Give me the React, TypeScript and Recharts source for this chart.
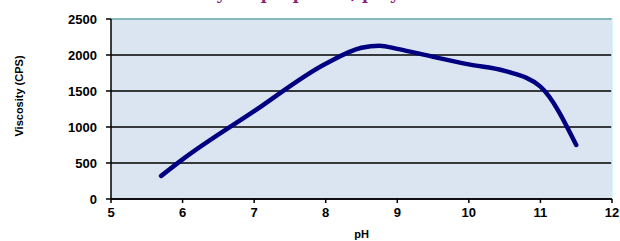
import React from 'react';
import {
  LineChart,
  Line,
  XAxis,
  YAxis,
  CartesianGrid,
  ReferenceLine,
  Label,
} from 'recharts';

// pH readings and measured viscosity (CPS)
const phValues = [5.7, 6, 7, 8, 8.5, 8.75, 9, 9.5, 10, 10.5, 11, 11.5];
const viscosityValues = [320, 550, 1220, 1880, 2100, 2130, 2085, 1975, 1870, 1780, 1560, 750];
const xTicks = [5, 6, 7, 8, 9, 10, 11, 12];
const yTicks = [0, 500, 1000, 1500, 2000, 2500];

const data = phValues.map((ph, i) => ({ ph, viscosity: viscosityValues[i] }));

const tickStyle = { fontFamily: 'Arial, "Liberation Sans", sans-serif', fontWeight: 700, fontSize: 13, fill: '#000' };

const App: React.FC = () => {
  return (
    <div style={{ position: 'absolute', left: 0, top: 0, width: 620, height: 241, background: '#fff', overflow: 'hidden' }}>
      <div
        style={{
          position: 'absolute',
          left: 0,
          width: 620,
          top: -16,
          textAlign: 'center',
          fontFamily: '"DejaVu Serif", "Liberation Serif", serif',
          fontWeight: 700,
          fontSize: 16,
          color: '#8B1C7C',
          paddingLeft: 20,
          lineHeight: '20px',
        }}
      >
        Viscosity vs. pH profile, polymer solution
      </div>
      <LineChart
        width={620}
        height={241}
        data={data}
        margin={{ top: 19, right: 8, bottom: 2, left: 0 }}
      >
        <CartesianGrid vertical={false} fill="#DBE5F1" stroke="#000" strokeWidth={1.5} />
        <XAxis
          type="number"
          dataKey="ph"
          domain={[5, 12]}
          ticks={xTicks}
          height={40}
          tickSize={4}
          tickMargin={5}
          axisLine={{ stroke: '#000', strokeWidth: 1.5 }}
          tickLine={{ stroke: '#000', strokeWidth: 1.5 }}
          tick={tickStyle}
        >
          <Label value="pH" position="insideBottom" offset={1} style={{ ...tickStyle, fontSize: 11 }} />
        </XAxis>
        <YAxis
          type="number"
          domain={[0, 2500]}
          ticks={yTicks}
          width={111}
          tickSize={5}
          tickMargin={9}
          axisLine={{ stroke: '#000', strokeWidth: 1.5 }}
          tickLine={{ stroke: '#000', strokeWidth: 1.5 }}
          tick={tickStyle}
        >
          <Label
            value="Viscosity (CPS)"
            angle={-90}
            position="insideLeft"
            offset={19}
            dy={-13}
            style={{ ...tickStyle, fontSize: 11, textAnchor: 'middle' }}
          />
        </YAxis>
        <ReferenceLine y={2500} stroke="#9EE3E3" strokeWidth={1.5} />
        <ReferenceLine x={12} stroke="#C8F2F2" strokeWidth={1.5} />
        <Line
          type="monotone"
          dataKey="viscosity"
          stroke="#000080"
          strokeWidth={4.5}
          strokeLinecap="round"
          dot={false}
          isAnimationActive={false}
        />
      </LineChart>
    </div>
  );
};

export default App;
